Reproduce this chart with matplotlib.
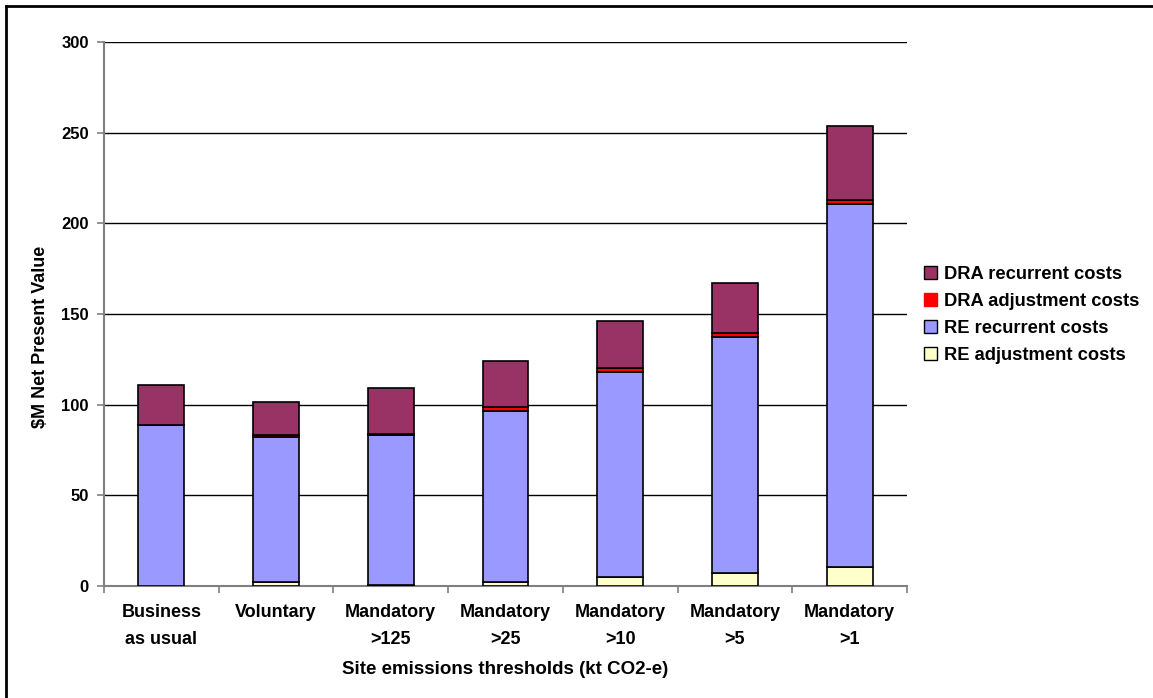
import matplotlib
matplotlib.use("Agg")
import matplotlib.pyplot as plt
from matplotlib.lines import Line2D
from matplotlib.patches import Patch
import numpy as np

plt.rcParams['font.family'] = ['Liberation Sans', 'DejaVu Sans']
plt.rcParams['font.weight'] = 'bold'

categories = ["Business\nas usual", "Voluntary", "Mandatory\n>125", "Mandatory\n>25",
              "Mandatory\n>10", "Mandatory\n>5", "Mandatory\n>1"]

re_adjustment = [0.0, 2.0, 0.5, 2.3, 5.0, 7.3, 10.7]
re_recurrent = [88.6, 80.0, 82.5, 94.2, 113.2, 130.2, 200.1]
dra_adjustment = [0.0, 1.0, 0.8, 2.2, 1.8, 2.2, 2.1]
dra_recurrent = [22.2, 18.5, 25.2, 25.4, 26.3, 27.2, 40.8]

series = [
    ("RE adjustment costs", re_adjustment, "#FFFFCC"),
    ("RE recurrent costs", re_recurrent, "#9999FF"),
    ("DRA adjustment costs", dra_adjustment, "#FF0000"),
    ("DRA recurrent costs", dra_recurrent, "#993366"),
]

fig = plt.figure(figsize=(11.53, 6.98), dpi=100)
ax = fig.add_axes([0.0902, 0.1605, 0.6964, 0.7793])

x = np.arange(len(categories))
bottom = np.zeros(len(categories))
for name, vals, color in series:
    vals = np.array(vals)
    ax.bar(x, vals, width=0.4, bottom=bottom, color=color, edgecolor="black",
           linewidth=1.2, zorder=3)
    bottom += vals

ax.set_xlim(-0.5, len(categories) - 0.5)
ax.set_ylim(0, 300)
ax.set_yticks(np.arange(0, 301, 50))
ax.yaxis.grid(True, color="black", linewidth=1.0, zorder=0)
ax.set_axisbelow(True)

ax.set_xticks(x)
ax.set_xticklabels(categories, fontsize=13, fontweight="bold", linespacing=1.8)
ax.set_xticks(np.arange(-0.5, len(categories), 1.0), minor=True)
ax.tick_params(axis="x", which="major", length=0, pad=13)
ax.tick_params(axis="x", which="minor", length=5, color="#808080", width=1.2)
ax.tick_params(axis="y", length=5, color="#808080", width=1.2, labelsize=12, pad=6)
for lab in ax.get_yticklabels():
    lab.set_fontweight("bold")

for s in ["top", "right"]:
    ax.spines[s].set_visible(False)
for s in ["left", "bottom"]:
    ax.spines[s].set_color("#808080")
    ax.spines[s].set_linewidth(1.5)

ax.set_ylabel("$M Net Present Value", fontsize=13, fontweight="bold")
ax.yaxis.set_label_coords(-0.068, 0.458)
ax.set_xlabel("Site emissions thresholds (kt CO2-e)", fontsize=13.5, fontweight="bold", labelpad=9)

handles = [Patch(facecolor=c, edgecolor="black" if n != "DRA adjustment costs" else c, linewidth=1.0, label=n)
           for n, _, c in series][::-1]
leg = fig.legend(handles=handles, loc="center left", bbox_to_anchor=(0.795, 0.549),
                 frameon=False, fontsize=13.2, handlelength=0.7, handleheight=0.7,
                 handletextpad=0.4, labelspacing=0.55, borderaxespad=0)
for t in leg.get_texts():
    t.set_fontweight("bold")

# outer frame along the top and left edges
fig.add_artist(Line2D([6 / 1153, 1.0], [1 - 6 / 698, 1 - 6 / 698], color="black",
                      linewidth=2, transform=fig.transFigure))
fig.add_artist(Line2D([6 / 1153, 6 / 1153], [0.0, 1 - 6 / 698], color="black",
                      linewidth=2, transform=fig.transFigure))

fig.savefig("out.png", dpi=100)
